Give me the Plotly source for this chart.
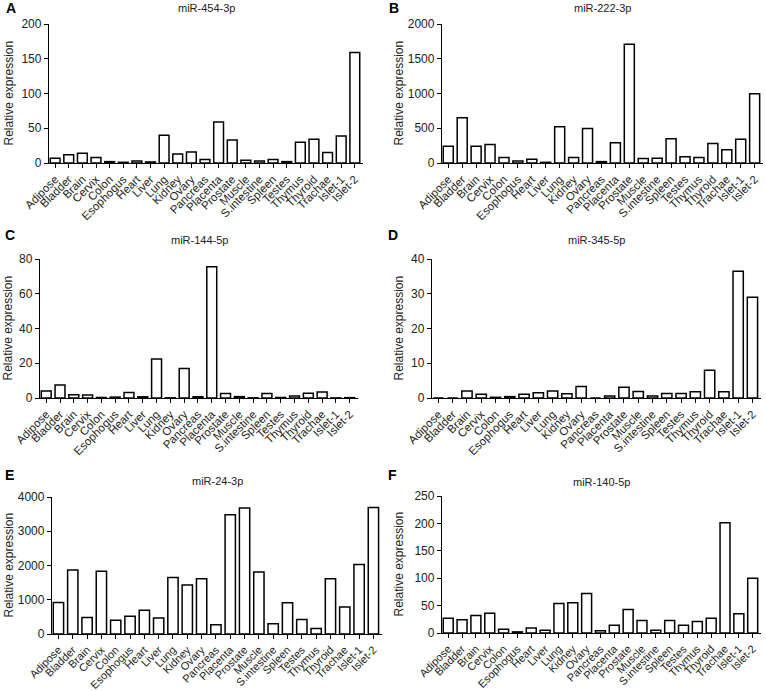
import plotly.graph_objects as go

tissues = ["Adipose", "Bladder", "Brain", "Cervix", "Colon", "Esophogus", "Heart", "Liver",
           "Lung", "Kidney", "Ovary", "Pancreas", "Placenta", "Prostate", "Muscle",
           "S.intestine", "Spleen", "Testes", "Thymus", "Thyroid", "Trachae", "Islet-1", "Islet-2"]

mir_454_3p = [7, 12, 14, 8, 2, 1, 3, 1.5, 40, 13, 16, 5, 59, 33, 4, 3, 5, 2, 30, 34, 15, 39, 159]
mir_222_3p = [240, 650, 240, 265, 80, 30, 55, 10, 520, 80, 495, 20, 290, 1710, 65, 70, 350, 90, 80, 280, 190, 340, 995]
mir_144_5p = [4, 7.5, 1.8, 1.7, 0.3, 0.5, 3.2, 0.7, 22.5, 0.1, 17, 0.7, 75.5, 2.6, 0.8, 0.1, 2.6, 0.3, 1.2, 2.8, 3.4, 0.05, 0.2]
mir_345_5p = [0, 0, 2, 1.1, 0.2, 0.4, 1.1, 1.5, 2, 1.2, 3.3, 0, 0.6, 3.1, 1.9, 0.6, 1.3, 1.3, 1.8, 8, 1.8, 36.5, 29]
mir_24_3p = [920, 1870, 480, 1830, 400, 520, 690, 470, 1650, 1430, 1610, 270, 3480, 3680, 1810, 300, 910, 420, 160, 1610, 790, 2030, 3690]
mir_140_5p = [27, 24, 32, 36, 7, 2, 9, 5, 54, 55, 72, 4, 14, 43, 23, 5, 23, 14, 21, 27, 201, 35, 100]

panels = [
    ("A", "miR-454-3p", mir_454_3p, 200, 50),
    ("B", "miR-222-3p", mir_222_3p, 2000, 500),
    ("C", "miR-144-5p", mir_144_5p, 80, 20),
    ("D", "miR-345-5p", mir_345_5p, 40, 10),
    ("E", "miR-24-3p", mir_24_3p, 4000, 1000),
    ("F", "miR-140-5p", mir_140_5p, 250, 50),
]

W, H = 766, 691
# plot areas in pixels: (x0, x1, ytop, ybottom)
boxes = [
    (49, 363, 24, 163),
    (442, 763, 24, 163),
    (40, 358, 259, 398),
    (432, 761, 259, 398),
    (52, 382, 497, 634),
    (442, 761, 496, 633),
]
title_y = [8, 8, 240, 240, 481, 482]
letter_pos = [(4, 8), (387, 8), (3, 235), (386, 235), (3, 475), (386, 475)]
ytitle_x = [8, 398, 7, 398, 8, 398]

fig = go.Figure()
annotations = []
font_fam = "Liberation Sans, Arial, sans-serif"
for i, (letter, title, vals, ymax, dtick) in enumerate(panels):
    n = i + 1
    xa = "x" if n == 1 else f"x{n}"
    ya = "y" if n == 1 else f"y{n}"
    fig.add_trace(go.Bar(
        x=tissues, y=vals, xaxis=xa, yaxis=ya,
        marker=dict(color="white", line=dict(color="black", width=1.5)),
        showlegend=False, hoverinfo="x+y",
    ))
    x0, x1, yt, yb = boxes[i]
    dom_x = [x0 / W, x1 / W]
    dom_y = [1 - yb / H, 1 - yt / H]
    xkey = "xaxis" if n == 1 else f"xaxis{n}"
    ykey = "yaxis" if n == 1 else f"yaxis{n}"
    fig.update_layout(**{
        xkey: dict(domain=dom_x, anchor=ya, range=[-0.45, 22.6], tickangle=-45,
                   automargin=False, tickmode="array", tickvals=tissues, ticktext=tissues,
                   showline=True, linecolor="black", linewidth=1.3,
                   ticks="outside", ticklen=4, tickcolor="black", tickwidth=1,
                   tickfont=dict(size=11.5 if n <= 4 else 11, color="#222", family=font_fam),
                   showgrid=False, zeroline=False, fixedrange=True),
        ykey: dict(domain=dom_y, anchor=xa, range=[0, ymax], dtick=dtick, tick0=0,
                   automargin=False,
                   showline=True, linecolor="black", linewidth=1.3,
                   ticks="outside", ticklen=4, tickcolor="black", tickwidth=1,
                   tickfont=dict(size=12, color="#222", family=font_fam),
                   showgrid=False, zeroline=False, fixedrange=True),
    })
    annotations.append(dict(text=title, x=(x0 + x1) / 2 / W, y=1 - title_y[i] / H,
                            xref="paper", yref="paper", xanchor="center", yanchor="middle",
                            showarrow=False, font=dict(size=11, color="#222", family=font_fam)))
    lx, ly = letter_pos[i]
    annotations.append(dict(text=f"<b>{letter}</b>", x=lx / W, y=1 - ly / H,
                            xref="paper", yref="paper", xanchor="left", yanchor="middle",
                            showarrow=False, font=dict(size=14, color="black", family=font_fam)))
    annotations.append(dict(text="Relative expression", x=ytitle_x[i] / W, y=1 - (yt + yb) / 2 / H,
                            xref="paper", yref="paper", xanchor="center", yanchor="middle",
                            textangle=-90, showarrow=False,
                            font=dict(size=12, color="#222", family=font_fam)))

fig.update_layout(width=W, height=H, margin=dict(l=0, r=0, t=0, b=0),
                  paper_bgcolor="white", plot_bgcolor="white", bargap=0.28,
                  annotations=annotations)
fig.write_html("out.html", config={"displayModeBar": False},
               post_script="document.body.style.margin='0';document.body.style.overflow='hidden';")
